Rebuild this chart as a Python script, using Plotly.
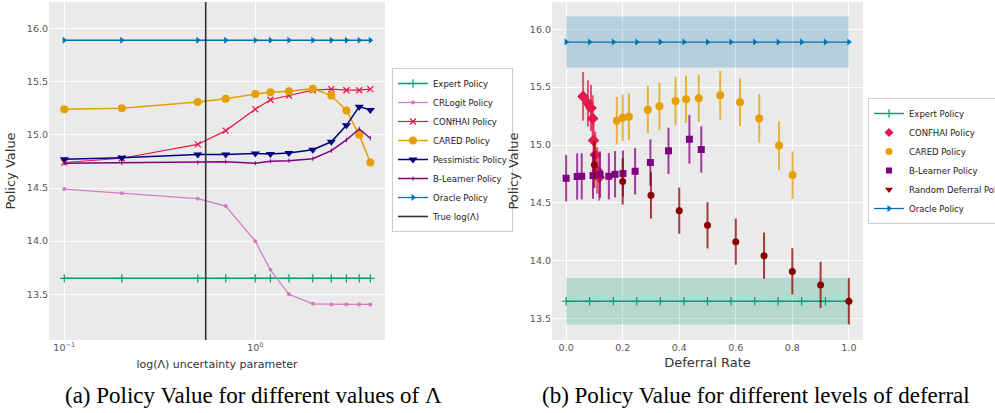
import plotly.graph_objects as go

# ---------------- data: panel (a) ----------------
LAMBDAS = [0.1, 0.2, 0.5, 0.7, 1.0, 1.2, 1.5, 2.0, 2.5, 3.0, 3.5, 4.0]
TRUE_LAMBDA = 0.55
EXPERT_A = [13.65, 13.65, 13.65, 13.65, 13.65, 13.65, 13.65, 13.65, 13.65, 13.65, 13.65, 13.65]
CRLOGIT_A = [14.49, 14.45, 14.40, 14.33, 14.00, 13.73, 13.50, 13.41, 13.405, 13.405, 13.405, 13.405]
CONFHAI_A = [14.74, 14.78, 14.91, 15.04, 15.24, 15.33, 15.37, 15.42, 15.43, 15.42, 15.42, 15.43]
CARED_A = [15.24, 15.25, 15.31, 15.34, 15.385, 15.40, 15.41, 15.435, 15.37, 15.23, 15.00, 14.74]
PESSIMISTIC_A = [14.77, 14.785, 14.815, 14.815, 14.825, 14.82, 14.83, 14.86, 14.935, 15.09, 15.265, 15.235]
BLEARNER_A = [14.733, 14.736, 14.74, 14.748, 14.733, 14.751, 14.757, 14.776, 14.851, 14.952, 15.056, 14.968]
ORACLE_A = [15.89, 15.89, 15.89, 15.89, 15.89, 15.89, 15.89, 15.89, 15.89, 15.89, 15.89, 15.89]

# ---------------- data: panel (b) ----------------
DEFER_GRID = [0.0, 0.083, 0.167, 0.25, 0.333, 0.417, 0.5, 0.583, 0.667, 0.75, 0.833, 0.917, 1.0]
EXPERT_B = [13.65, 13.65, 13.65, 13.65, 13.65, 13.65, 13.65, 13.65, 13.65, 13.65, 13.65, 13.65, 13.65]
EXPERT_B_LO, EXPERT_B_HI = 13.45, 13.85
ORACLE_B = [15.89, 15.89, 15.89, 15.89, 15.89, 15.89, 15.89, 15.89, 15.89, 15.89, 15.89, 15.89, 15.89]
ORACLE_B_LO, ORACLE_B_HI = 15.67, 16.11

CONFHAI_X = [0.060, 0.077, 0.088, 0.094, 0.097, 0.103, 0.110, 0.117]
CONFHAI_Y = [15.42, 15.36, 15.32, 15.23, 15.04, 14.915, 14.78, 14.72]
CONFHAI_E = [0.21, 0.20, 0.20, 0.20, 0.20, 0.20, 0.20, 0.20]

CARED_X = [0.179, 0.200, 0.222, 0.289, 0.330, 0.387, 0.424, 0.469, 0.545, 0.615, 0.683, 0.753, 0.801]
CARED_Y = [15.21, 15.235, 15.245, 15.305, 15.335, 15.38, 15.395, 15.405, 15.43, 15.37, 15.23, 14.995, 14.74]
CARED_E = [0.205, 0.20, 0.20, 0.205, 0.205, 0.21, 0.205, 0.205, 0.21, 0.205, 0.21, 0.21, 0.205]

BLEARNER_X = [0.0, 0.039, 0.055, 0.095, 0.120, 0.151, 0.173, 0.201, 0.244, 0.298, 0.362, 0.436, 0.478]
BLEARNER_Y = [14.713, 14.728, 14.73, 14.736, 14.745, 14.73, 14.747, 14.753, 14.773, 14.849, 14.95, 15.05, 14.961]
BLEARNER_E = [0.20, 0.20, 0.20, 0.20, 0.20, 0.20, 0.20, 0.20, 0.20, 0.20, 0.20, 0.21, 0.20]

RANDOM_X = [0.1, 0.2, 0.3, 0.4, 0.5, 0.6, 0.7, 0.8, 0.9, 1.0]
RANDOM_Y = [14.83, 14.685, 14.565, 14.433, 14.306, 14.165, 14.044, 13.908, 13.79, 13.65]
RANDOM_E = [0.20, 0.20, 0.20, 0.20, 0.20, 0.20, 0.20, 0.20, 0.20, 0.20]

C_EXPERT = "#009E73"
C_CRLOGIT = "#D27BC3"
C_CONFHAI = "#E3174A"
C_CARED = "#E69F00"
C_PESS = "#000080"
C_BL = "#800080"
C_ORACLE = "#0072B2"
C_RAND = "#8B0000"


def rgba(hexc, a):
    h = hexc.lstrip("#")
    r, g, b = int(h[0:2], 16), int(h[2:4], 16), int(h[4:6], 16)
    return f"rgba({r},{g},{b},{a})"


fig = go.Figure()

# ---------------- panel (a) ----------------
def line_a(y, name, color, symbol, size, lw=1.5, mlw=0):
    fig.add_trace(go.Scatter(
        x=LAMBDAS, y=y, name=name, mode="lines+markers",
        line=dict(color=color, width=lw),
        marker=dict(symbol=symbol, size=size, color=color,
                    line=dict(color=color, width=mlw)),
        xaxis="x", yaxis="y", legend="legend"))

line_a(EXPERT_A, "Expert Policy", C_EXPERT, "cross-thin", 6, 1.5, 1.2)
line_a(CRLOGIT_A, "CRLogit Policy", C_CRLOGIT, "circle", 4, 1.2)
line_a(CONFHAI_A, "CONfHAI Policy", C_CONFHAI, "x-thin", 6, 1.2, 1.2)
line_a(CARED_A, "CARED Policy", C_CARED, "circle", 8, 1.5)
line_a(PESSIMISTIC_A, "Pessimistic Policy", C_PESS, "triangle-down", 8, 1.5)
line_a(BLEARNER_A, "B-Learner Policy", C_BL, "line-ns", 3, 1.5, 1)
line_a(ORACLE_A, "Oracle Policy", C_ORACLE, "triangle-right", 6, 1.3)

YA_RANGE = [13.07, 16.25]
fig.add_trace(go.Scatter(
    x=[TRUE_LAMBDA, TRUE_LAMBDA], y=YA_RANGE, name="True log(\u039b)", mode="lines",
    line=dict(color="#333333", width=1.6), xaxis="x", yaxis="y", legend="legend"))

# ---------------- panel (b) ----------------
for lo, hi, col in [(ORACLE_B_LO, ORACLE_B_HI, C_ORACLE), (EXPERT_B_LO, EXPERT_B_HI, C_EXPERT)]:
    fig.add_trace(go.Scatter(x=[0, 1], y=[hi, hi], mode="lines", line=dict(width=0),
                             showlegend=False, hoverinfo="skip", xaxis="x2", yaxis="y2"))
    fig.add_trace(go.Scatter(x=[0, 1], y=[lo, lo], mode="lines", line=dict(width=0),
                             fill="tonexty", fillcolor=rgba(col, 0.22),
                             showlegend=False, hoverinfo="skip", xaxis="x2", yaxis="y2"))

fig.add_trace(go.Scatter(
    x=DEFER_GRID, y=EXPERT_B, name="Expert Policy", mode="lines+markers",
    line=dict(color=C_EXPERT, width=1.5),
    marker=dict(symbol="cross-thin", size=6, color=C_EXPERT, line=dict(color=C_EXPERT, width=1.2)),
    xaxis="x2", yaxis="y2", legend="legend2"))


def err_b(x, y, e, name, color, symbol, size, legsym, legsize):
    fig.add_trace(go.Scatter(
        x=x, y=y, mode="markers", showlegend=False,
        marker=dict(symbol=symbol, size=size, color=color),
        error_y=dict(type="data", array=e, visible=True, thickness=2,
                     width=0, color=rgba(color, 0.75)),
        xaxis="x2", yaxis="y2"))
    fig.add_trace(go.Scatter(
        x=[None], y=[None], name=name, mode="markers",
        marker=dict(symbol=legsym, size=legsize, color=color),
        xaxis="x2", yaxis="y2", legend="legend2"))


err_b(CONFHAI_X, CONFHAI_Y, CONFHAI_E, "CONFHAI Policy", C_CONFHAI, "diamond", 9, "diamond", 7)
err_b(CARED_X, CARED_Y, CARED_E, "CARED Policy", C_CARED, "circle", 8, "circle", 7)
err_b(BLEARNER_X, BLEARNER_Y, BLEARNER_E, "B-Learner Policy", C_BL, "square", 7, "square", 6)
err_b(RANDOM_X, RANDOM_Y, RANDOM_E, "Random Deferral Policy", C_RAND, "circle", 7, "triangle-down", 7)

fig.add_trace(go.Scatter(
    x=DEFER_GRID, y=ORACLE_B, name="Oracle Policy", mode="lines+markers",
    line=dict(color=C_ORACLE, width=1.3),
    marker=dict(symbol="triangle-right", size=6, color=C_ORACLE),
    xaxis="x2", yaxis="y2", legend="legend2"))

# ---------------- layout ----------------
W, H = 995, 413
BG = "#EAEAEA"
TICKF = dict(family="DejaVu Sans", size=9.5, color="#555555")
TITLEF = dict(family="DejaVu Sans", size=13, color="#333333")
YTICKS = [13.5, 14.0, 14.5, 15.0, 15.5, 16.0]

axis_common = dict(showgrid=True, gridcolor="white", gridwidth=1.2, zeroline=False,
                   showline=False, ticks="", tickfont=TICKF)

LEGF = dict(family="DejaVu Sans", size=8.5, color="#222222")
CAPF = dict(family="Liberation Serif", size=23, color="black")

fig.update_layout(
    width=W, height=H, margin=dict(l=0, r=0, t=0, b=0, autoexpand=False),
    paper_bgcolor="white", plot_bgcolor=BG, showlegend=True,
    font=dict(family="DejaVu Sans"),
    xaxis=dict(domain=[49 / W, 385 / W], type="log", range=[-1.08, 0.679],
               tickvals=[0.1, 1.0], ticktext=["10<sup>\u22121</sup>", "10<sup>0</sup>"],
               title=dict(text="log(\u039b) uncertainty parameter", font=dict(family="DejaVu Sans", size=11, color="#333333"), standoff=8),
               anchor="y", **axis_common),
    yaxis=dict(domain=[1 - 340 / H, 1 - 2 / H], range=YA_RANGE, tickvals=YTICKS,
               tickformat=".1f", title=dict(text="Policy Value", font=TITLEF, standoff=8),
               anchor="x", **axis_common),
    xaxis2=dict(domain=[552 / W, 863 / W], range=[-0.05, 1.05],
                tickvals=[0, 0.2, 0.4, 0.6, 0.8, 1.0], tickformat=".1f",
                title=dict(text="Deferral Rate", font=dict(family="DejaVu Sans", size=13, color="#333333"), standoff=6),
                anchor="y2", **axis_common),
    yaxis2=dict(domain=[1 - 340 / H, 1 - 2 / H], range=[13.315, 16.236], tickvals=YTICKS,
                tickformat=".1f", title=dict(text="Policy Value", font=TITLEF, standoff=8),
                anchor="x2", **axis_common),
    legend=dict(x=392 / W, y=1 - 68 / H, xanchor="left", yanchor="top",
                bgcolor="rgba(255,255,255,0.85)", bordercolor="#CCCCCC", borderwidth=1,
                font=LEGF, itemwidth=30, tracegroupgap=0, traceorder="normal"),
    legend2=dict(x=868 / W, y=1 - 98 / H, xanchor="left", yanchor="top",
                 bgcolor="rgba(255,255,255,0.85)", bordercolor="#CCCCCC", borderwidth=1,
                 font=LEGF, itemwidth=30, tracegroupgap=0, traceorder="normal"),
    annotations=[
        dict(text="(a) Policy Value for different values of \u039b", x=254 / W, y=1 - 395 / H,
             xref="paper", yref="paper", xanchor="center", yanchor="middle", showarrow=False,
             font=CAPF),
        dict(text="(b) Policy Value for different levels of deferral", x=756 / W, y=1 - 395 / H,
             xref="paper", yref="paper", xanchor="center", yanchor="middle", showarrow=False,
             font=CAPF),
    ],
)

fig.write_html("out.html", config={"displayModeBar": False},
               post_script="document.body.style.margin='0px';")
